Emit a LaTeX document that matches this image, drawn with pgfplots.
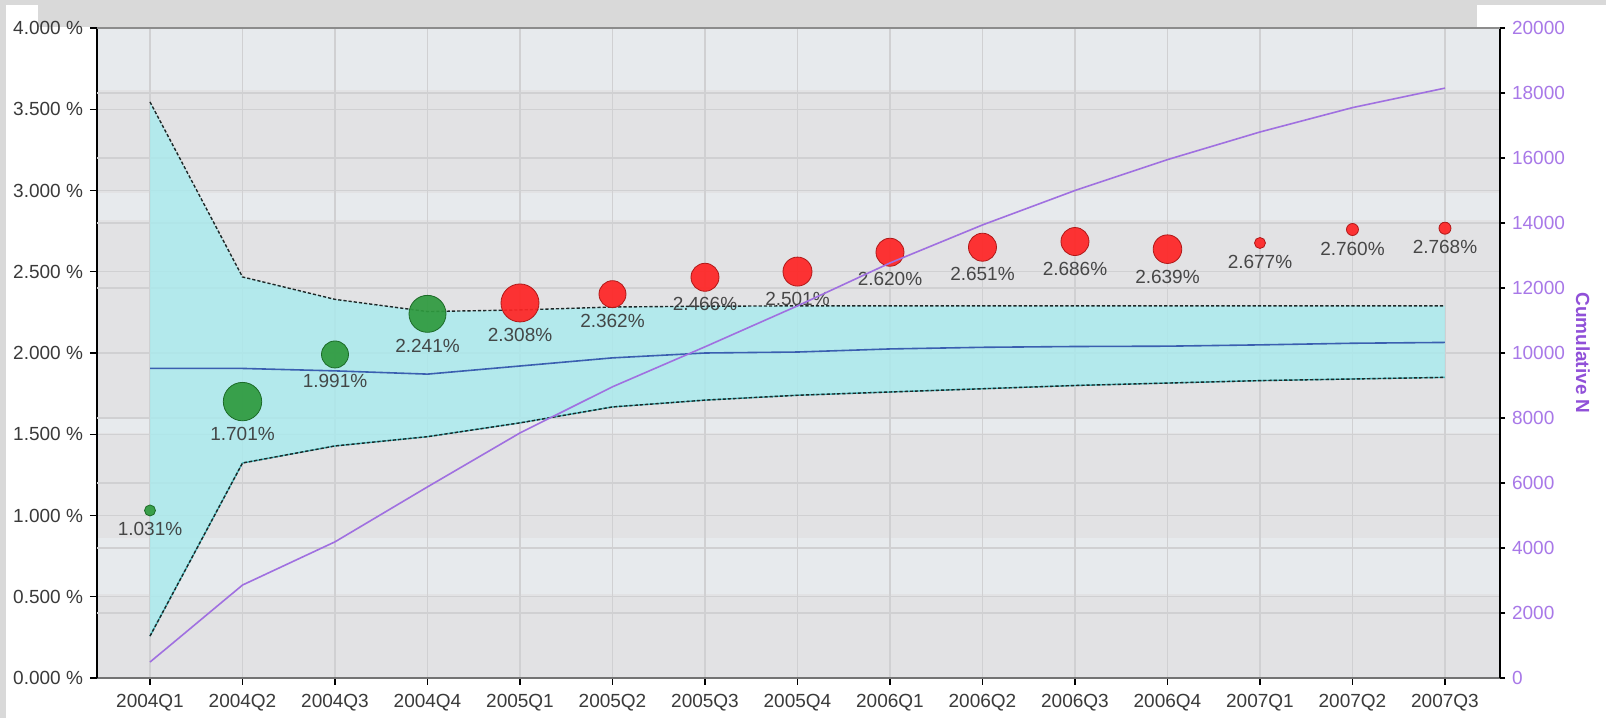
\documentclass[border=0pt]{standalone}
\usepackage{fontspec}
\setmainfont{Liberation Sans}
\usepackage{pgfplots}
\pgfplotsset{compat=1.18}

\definecolor{framegray}{HTML}{D9D9D9}
\definecolor{plotbg}{HTML}{E2E2E4}
\definecolor{bandlight}{HTML}{E7EAED}
\definecolor{gridc}{HTML}{D0D0D2}
\definecolor{funnel}{HTML}{A8EBEE}
\definecolor{limitline}{HTML}{1E2828}
\definecolor{limitcyan}{HTML}{48B8BC}
\definecolor{centerblue}{HTML}{3A5FB0}
\definecolor{cumpurple}{HTML}{A070E0}
\definecolor{purplelab}{HTML}{A878E8}
\definecolor{purpletitle}{HTML}{9050D8}
\definecolor{redfill}{HTML}{FF2424}
\definecolor{reddraw}{HTML}{B01818}
\definecolor{greenfill}{HTML}{2E9A3E}
\definecolor{greendraw}{HTML}{1C6B28}
\definecolor{labeltext}{HTML}{3A3A3A}

\newcommand{\chartfont}{\fontsize{9.5bp}{11bp}\selectfont}

\pgfplotsset{
  panel/.style={
    scale only axis, width=701.5bp, height=325bp,
    xmin=-0.573, xmax=14.595,
    at={(48.5bp,20bp)}, anchor=south west,
  },
  limit/.style={limitline, line width=0.7bp, dash pattern=on 1.6bp off 1bp},
}

% one bubble: x, rate, radius (bp), colour prefix
\newcommand{\bubble}[4]{%
  \addplot[only marks, mark=*, mark size=#3bp,
    mark options={fill=#4fill, draw=#4draw, line width=0.4bp, fill opacity=0.92},
    nodes near coords={\pgfmathprintnumber[fixed,fixed zerofill,precision=3]{\pgfplotspointmeta}\%},
    every node near coord/.append style={anchor=north, yshift=-#3bp-3bp,
      font=\chartfont, text=labeltext, inner sep=0pt}]
    coordinates {(#1,#2)};
}

\begin{document}
\begin{tikzpicture}
\useasboundingbox (0,0) rectangle (803bp,359bp);
\fill[white] (0,0) rectangle (803bp,359bp);
\fill[framegray] (0,0) rectangle (3bp,359bp);
\fill[framegray] (0,356.5bp) rectangle (803bp,359bp);
\fill[framegray] (19bp,345.5bp) rectangle (738.5bp,359bp);

% plot area shading
\begin{axis}[panel, ymin=0, ymax=4, hide axis]
  \fill[plotbg] (axis cs:-0.573,0) rectangle (axis cs:14.595,4);
  \fill[bandlight] (axis cs:-0.573,3.62) rectangle (axis cs:14.595,4);
  \fill[bandlight] (axis cs:-0.573,2.82) rectangle (axis cs:14.595,2.985);
  \fill[bandlight] (axis cs:-0.573,1.51) rectangle (axis cs:14.595,1.60);
  \fill[bandlight] (axis cs:-0.573,0.52) rectangle (axis cs:14.595,0.86);
\end{axis}

% rate axis: funnel limits and quarterly rates
\begin{axis}[panel, ymin=0, ymax=4,
  axis x line*=bottom, axis y line*=left,
  x axis line style={draw=black!55, line width=0.9bp, -},
  y axis line style={draw=black, line width=1bp, -},
  xtick={0,...,14},
  xticklabels={2004Q1,2004Q2,2004Q3,2004Q4,2005Q1,2005Q2,2005Q3,2005Q4,2006Q1,2006Q2,2006Q3,2006Q4,2007Q1,2007Q2,2007Q3},
  ytick={0,0.5,...,4},
  yticklabel={\pgfmathprintnumber[fixed,fixed zerofill,precision=3]{\tick}~\%},
  /pgf/number format/assume math mode=true,
  extra y ticks={0.4,0.8,1.2,1.6,2.4,2.8,3.2,3.6},
  extra y tick labels={},
  extra y tick style={grid=major, major tick length=0pt},
  xmajorgrids, ymajorgrids,
  grid style={gridc, line width=0.6bp},
  tick align=outside, major tick length=3.5bp,
  tick style={black, line width=0.6bp},
  ticklabel style={font=\chartfont, text=labeltext},
  xticklabel style={yshift=-1bp},
]
  % control band between the upper and lower limits
  \addplot[draw=none, fill=funnel, fill opacity=0.8] coordinates {
    (0,3.545) (1,2.468) (2,2.33) (3,2.255) (4,2.265) (5,2.283) (6,2.288) (7,2.29)
    (8,2.29) (9,2.29) (10,2.29) (11,2.29) (12,2.29) (13,2.29) (14,2.29)
    (14,1.85) (13,1.84) (12,1.83) (11,1.815) (10,1.80) (9,1.78) (8,1.76)
    (7,1.74) (6,1.71) (5,1.668) (4,1.57) (3,1.485) (2,1.428) (1,1.323) (0,0.258)} -- cycle;

  \addplot[limitcyan, line width=0.7bp] coordinates {
    (0,0.258) (1,1.323) (2,1.428) (3,1.485) (4,1.57) (5,1.668) (6,1.71) (7,1.74)
    (8,1.76) (9,1.78) (10,1.80) (11,1.815) (12,1.83) (13,1.84) (14,1.85)};
  \addplot[limit] coordinates {
    (0,3.545) (1,2.468) (2,2.33) (3,2.255) (4,2.265) (5,2.283) (6,2.288) (7,2.29)
    (8,2.29) (9,2.29) (10,2.29) (11,2.29) (12,2.29) (13,2.29) (14,2.29)};
  \addplot[limit] coordinates {
    (0,0.258) (1,1.323) (2,1.428) (3,1.485) (4,1.57) (5,1.668) (6,1.71) (7,1.74)
    (8,1.76) (9,1.78) (10,1.80) (11,1.815) (12,1.83) (13,1.84) (14,1.85)};
  \addplot[centerblue, line width=0.8bp] coordinates {
    (0,1.905) (1,1.905) (2,1.89) (3,1.87) (4,1.92) (5,1.97) (6,2.0) (7,2.006)
    (8,2.025) (9,2.035) (10,2.04) (11,2.042) (12,2.05) (13,2.06) (14,2.065)};

  \bubble{0}{1.031}{2.75}{green}
  \bubble{1}{1.701}{9.6}{green}
  \bubble{2}{1.991}{6.75}{green}
  \bubble{3}{2.241}{9.25}{green}
  \bubble{4}{2.308}{9.5}{red}
  \bubble{5}{2.362}{6.75}{red}
  \bubble{6}{2.466}{7}{red}
  \bubble{7}{2.501}{7.25}{red}
  \bubble{8}{2.620}{7}{red}
  \bubble{9}{2.651}{7}{red}
  \bubble{10}{2.686}{7}{red}
  \bubble{11}{2.639}{7.15}{red}
  \bubble{12}{2.677}{2.75}{red}
  \bubble{13}{2.760}{3}{red}
  \bubble{14}{2.768}{3}{red}
\end{axis}

% cumulative count axis
\begin{axis}[panel, ymin=0, ymax=20000,
  axis y line*=right, axis x line=none,
  y axis line style={draw=black, line width=1bp, -},
  ytick distance=2000,
  scaled y ticks=false,
  /pgf/number format/1000 sep={},
  /pgf/number format/assume math mode=true,
  tick align=outside, major tick length=2.5bp,
  tick style={black, line width=0.6bp},
  yticklabel style={font=\chartfont, text=purplelab},
]
  \addplot[cumpurple, line width=0.8bp] coordinates {
    (0,490) (1,2860) (2,4190) (3,5880) (4,7540) (5,8960) (6,10190) (7,11450)
    (8,12770) (9,13940) (10,15000) (11,15950) (12,16800) (13,17550) (14,18150)};
\end{axis}

\draw[black!45, line width=0.8bp] (48.5bp,345bp) -- (750bp,345bp);
\node[rotate=-90, font=\fontsize{9.5bp}{11bp}\selectfont\bfseries, text=purpletitle]
  at (791.5bp,182.5bp) {Cumulative N};
\end{tikzpicture}
\end{document}
